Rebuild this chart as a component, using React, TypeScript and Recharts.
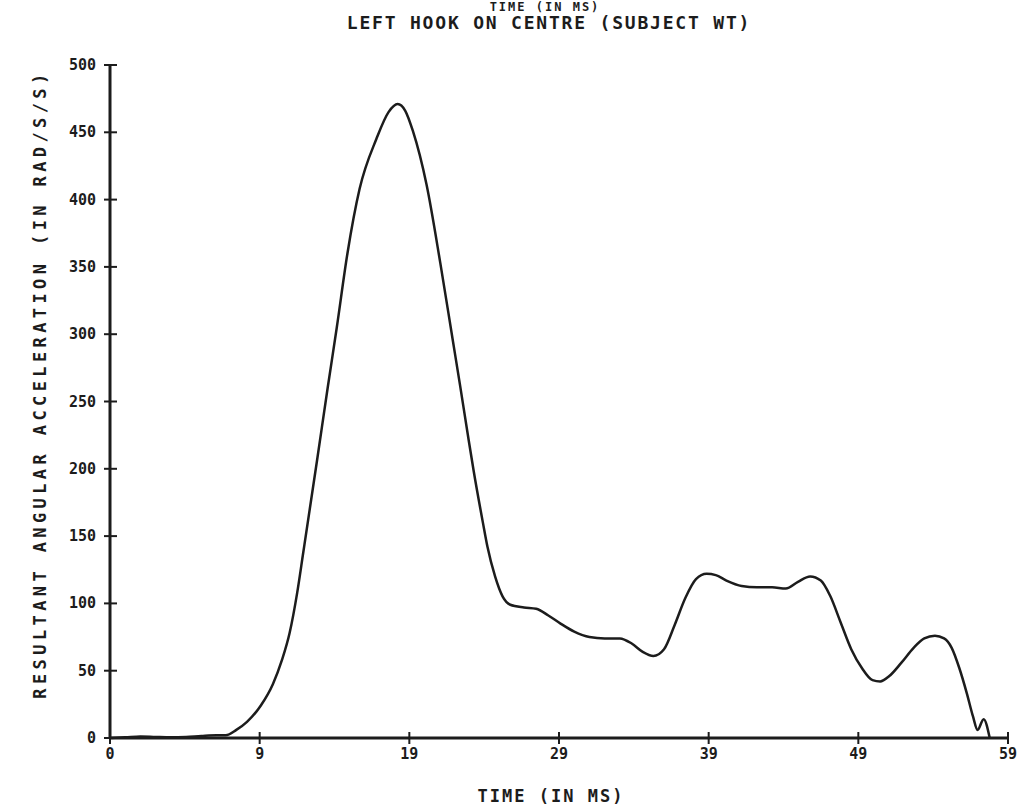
import { LineChart, Line, XAxis, YAxis } from 'recharts';

// time in ms
const times = [
  0, 1, 2, 3, 4, 5, 6, 7, 7.6, 8.3, 9, 9.9, 10.7, 11.3, 11.8, 12.3, 12.7, 13.6, 14.3, 14.9, 15.6, 16.4,
  17.5, 18.3, 18.9, 19.4, 19.9, 20.8, 21.7, 22.5, 23.0, 23.5, 23.9, 24.5, 24.8, 25.3, 25.8,
  26.3, 27.2, 28.0, 28.8, 29.6, 30.5, 31.5, 32.5, 33.5, 34.3, 35.0, 35.7, 36.4, 37.1, 37.8,
  38.5, 39.2, 39.8, 40.5, 41.5, 42.5, 43.5, 44.4, 45.2, 46.0, 46.7, 47.3, 48.0, 48.7, 49.4,
  50.1, 50.6, 51.2, 52.0, 52.8, 53.5, 54.2, 54.8, 55.3, 55.8, 56.3, 56.7, 57.0, 57.4, 57.8,
];

// resultant angular acceleration (rad/s/s)
const accel = [
  0, 0.5, 1.2, 0.8, 0.5, 0.8, 1.5, 2, 2, 6, 12, 24, 40, 58, 78, 108, 138, 206, 260, 305, 360, 408,
  445, 465, 471, 466, 451, 411, 353, 297, 262, 226, 198, 160, 142, 120, 105,
  99, 97, 96, 91, 85, 79, 75, 74, 74, 70, 64, 61, 66, 84, 104,
  118, 122, 121, 117, 113, 112, 112, 111, 116, 120, 117, 106, 86, 66, 52,
  43, 42, 46, 56, 67, 74, 76, 74, 67, 52, 33, 16, 6, 14, 0,
];

const xTicks = [0, 1, 2, 3, 4, 5, 6].map((i) => (i * 59) / 6);
const yTicks = [0, 50, 100, 150, 200, 250, 300, 350, 400, 450, 500];

const data = times.map((t, i) => ({ t, v: accel[i] }));

const FONT = '"DejaVu Sans Mono", monospace';
const INK = '#1c1c1c';

const XTick = ({ x, y, payload }: any) => (
  <g>
    <line x1={x} x2={x} y1={y - 6} y2={y + 6} stroke={INK} strokeWidth={2} />
    <text x={x} y={y + 21} textAnchor="middle" fontFamily={FONT} fontWeight="bold" fontSize={15} fill={INK}>
      {Math.floor(payload.value + 1e-9)}
    </text>
  </g>
);

const YTick = ({ x, y, payload }: any) => (
  <g>
    <line x1={x - 6} x2={x + 7} y1={y} y2={y} stroke={INK} strokeWidth={2} />
    <text x={x - 14} y={y + 5} textAnchor="end" fontFamily={FONT} fontWeight="bold" fontSize={15} fill={INK}>
      {payload.value}
    </text>
  </g>
);

const txt: React.CSSProperties = {
  position: 'absolute',
  fontFamily: FONT,
  fontWeight: 'bold',
  color: INK,
  whiteSpace: 'nowrap',
};

export default function App() {
  return (
    <div style={{ position: 'absolute', left: 0, top: 0, width: 1022, height: 812, background: '#fff', overflow: 'hidden' }}>
      <LineChart width={1022} height={812} data={data} margin={{ top: 65, right: 14, bottom: 0, left: 0 }}>
        <XAxis
          dataKey="t"
          type="number"
          domain={[0, 59]}
          ticks={xTicks}
          interval={0}
          height={74}
          tickSize={0}
          tickMargin={0}
          tickLine={false}
          axisLine={{ stroke: INK, strokeWidth: 3 }}
          tick={<XTick />}
        />
        <YAxis
          type="number"
          domain={[0, 500]}
          ticks={yTicks}
          interval={0}
          width={110}
          tickSize={0}
          tickMargin={0}
          tickLine={false}
          axisLine={{ stroke: INK, strokeWidth: 3 }}
          tick={<YTick />}
        />
        <Line type="monotone" dataKey="v" stroke={INK} strokeWidth={2.5} dot={false} isAnimationActive={false} />
      </LineChart>
      <div style={{ ...txt, left: 0, width: 1090, top: 1, textAlign: 'center', fontSize: 12, lineHeight: '12px', letterSpacing: 2 }}>
        TIME (IN MS)
      </div>
      <div style={{ ...txt, left: 0, width: 1098, top: 13, textAlign: 'center', fontSize: 18, lineHeight: '20px', letterSpacing: 1.8 }}>
        LEFT HOOK ON CENTRE (SUBJECT WT)
      </div>
      <div style={{ ...txt, left: 110, width: 882, top: 786, textAlign: 'center', fontSize: 17, letterSpacing: 2 }}>TIME (IN MS)</div>
      <div style={{ ...txt, left: 40, top: 384, width: 0, height: 0 }}>
        <div style={{ position: 'absolute', transform: 'translate(-50%, -50%) rotate(-90deg)', fontSize: 17, letterSpacing: 4.4 }}>
          RESULTANT ANGULAR ACCELERATION (IN RAD/S/S)
        </div>
      </div>
    </div>
  );
}
